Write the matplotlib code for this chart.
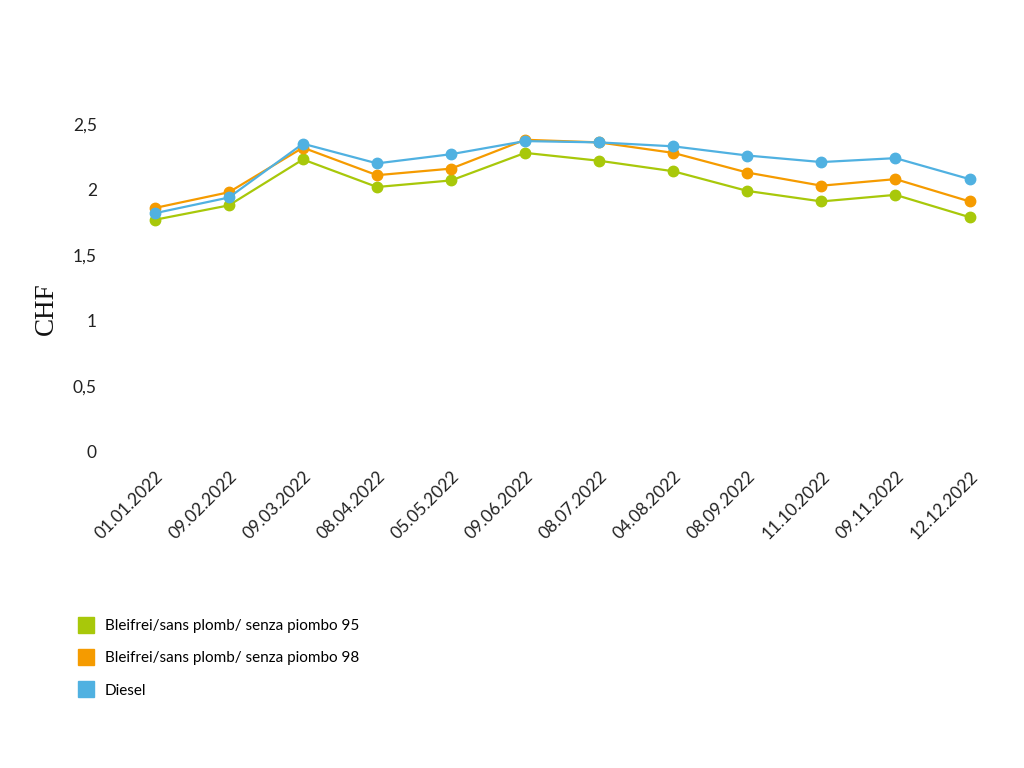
import matplotlib
matplotlib.use('Agg')
import matplotlib.pyplot as plt
from matplotlib.lines import Line2D

dates = ['01.01.2022', '09.02.2022', '09.03.2022', '08.04.2022', '05.05.2022', '09.06.2022',
         '08.07.2022', '04.08.2022', '08.09.2022', '11.10.2022', '09.11.2022', '12.12.2022']
bleifrei_95 = [1.77, 1.88, 2.23, 2.02, 2.07, 2.28, 2.22, 2.14, 1.99, 1.91, 1.96, 1.79]
bleifrei_98 = [1.86, 1.98, 2.32, 2.11, 2.16, 2.38, 2.36, 2.28, 2.13, 2.03, 2.08, 1.91]
diesel = [1.82, 1.94, 2.35, 2.20, 2.27, 2.37, 2.36, 2.33, 2.26, 2.21, 2.24, 2.08]
y_ticks = [0, 0.5, 1, 1.5, 2, 2.5]
y_tick_labels = ['0', '0,5', '1', '1,5', '2', '2,5']
labels = ['Bleifrei/sans plomb/ senza piombo 95',
          'Bleifrei/sans plomb/ senza piombo 98',
          'Diesel']
colors = ['#a8c80a', '#f59b00', '#50b1e1']

plt.rcParams['font.family'] = ['Lato', 'DejaVu Sans']

fig = plt.figure(figsize=(10.24, 7.68), dpi=100)
ax = fig.add_axes([0.115, 0.4115, 0.868, 0.427])

x = list(range(len(dates)))
for series, color in zip([bleifrei_95, bleifrei_98, diesel], colors):
    ax.plot(x, series, color=color, linewidth=1.6, marker='o', markersize=7.5)

ax.set_xlim(-0.5, len(dates) - 0.5)
ax.set_ylim(0, 2.5)
ax.set_yticks(y_ticks)
ax.set_yticklabels(y_tick_labels, fontsize=12.5)
ax.set_xticks(x)
ax.set_xticklabels(dates, rotation=45, ha='right', rotation_mode='anchor', fontsize=12.5)
ax.tick_params(axis='both', length=0, colors='#222222')
ax.tick_params(axis='y', pad=15)
ax.tick_params(axis='x', pad=12)
for s in ax.spines.values():
    s.set_visible(False)

# y axis title sits a bit below the axes centre in the original
fig.text(46 / 1024, 1 - 309 / 768, 'CHF', family='Liberation Serif', fontsize=19.5,
         rotation=90, ha='center', va='center', color='#111111')

# legend
handles = [Line2D([], [], linestyle='none', marker='s', markersize=12, color=c) for c in colors]
fig.legend(handles, labels, loc='upper left', bbox_to_anchor=(0.062, 0.212), frameon=False,
           fontsize=11, handletextpad=0.6, labelspacing=1.2, handlelength=1.2)

fig.savefig('out.png', dpi=100)
